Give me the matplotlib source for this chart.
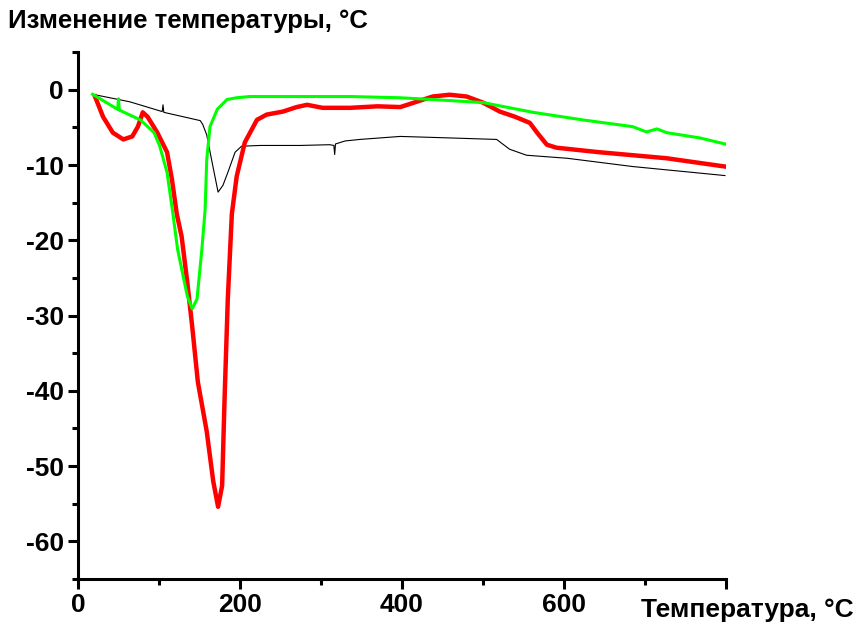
import numpy as np
import matplotlib.pyplot as plt

plt.rcParams['font.family'] = ['Liberation Sans', 'DejaVu Sans']
plt.rcParams['font.weight'] = 'bold'
plt.rcParams['axes.unicode_minus'] = False

# black (thin) curve
t_black = [18, 64, 104, 105, 106, 151, 154, 159, 165, 173, 179, 185, 194, 202, 225,
           274, 311, 316, 317, 318, 330, 348, 398, 459, 517, 533, 554, 604, 685, 799]
y_black = [-0.6, -1.6, -2.9, -2.0, -3.0, -4.1, -4.6, -6.0, -9.3, -13.6, -12.7, -11.0, -8.3,
           -7.5, -7.4, -7.4, -7.3, -7.4, -8.6, -7.2, -6.8, -6.6, -6.2, -6.4, -6.6, -7.9,
           -8.7, -9.1, -10.2, -11.4]

# green curve
t_green = [18, 49, 50, 51, 77, 94, 101, 110, 117, 123, 135, 141, 147, 153, 157, 159,
           163, 172, 184, 196, 212, 336, 397, 438, 500, 562, 623, 685, 702, 715, 727,
           768, 799]
y_green = [-0.6, -2.6, -1.2, -2.7, -4.0, -5.7, -7.5, -11.0, -16.3, -21.2, -27.4, -29.1,
           -27.8, -21.2, -15.9, -9.3, -4.9, -2.6, -1.3, -1.06, -0.9, -0.9, -1.06, -1.3,
           -1.7, -3.0, -4.0, -4.9, -5.6, -5.2, -5.7, -6.4, -7.2]

# red (thick) curve
t_red = [21, 31, 43, 56, 67, 74, 80, 86, 98, 110, 116, 122, 128, 135, 141, 148, 159,
         167, 173, 178, 181, 185, 190, 196, 206, 221, 233, 253, 270, 283, 302, 336,
         370, 398, 418, 438, 459, 480, 500, 521, 540, 558, 567, 579, 591, 644, 727, 799]
y_red = [-0.9, -3.6, -5.7, -6.6, -6.2, -4.9, -3.0, -3.6, -5.7, -8.3, -11.9, -16.5,
         -19.5, -25.6, -31.4, -38.8, -45.4, -52.0, -55.4, -52.6, -41.1, -27.8, -16.5,
         -11.5, -7.0, -4.0, -3.3, -2.9, -2.3, -2.0, -2.4, -2.4, -2.2, -2.3, -1.6, -0.9,
         -0.66, -0.9, -1.7, -2.9, -3.6, -4.4, -5.7, -7.3, -7.7, -8.3, -9.1, -10.2]

fig = plt.figure(figsize=(8.58, 6.28), dpi=100)
ax = fig.add_axes([0.0909, 0.078, 0.755, 0.839])

ax.plot(t_black, y_black, color='black', lw=0.8)
ax.plot(t_red, y_red, color='#ff0000', lw=3.2, solid_joinstyle='round')
ax.plot(t_green, y_green, color='#00ff00', lw=2.2, solid_joinstyle='round')

ax.set_xlim(0, 800)
ax.set_ylim(-65, 5)
ax.set_xticks([0, 200, 400, 600, 800])
ax.set_xticklabels(['0', '200', '400', '600', ''])
ax.set_xticks([100, 300, 500, 700], minor=True)
ax.set_yticks([0, -10, -20, -30, -40, -50, -60])
ax.set_yticks([5, -5, -15, -25, -35, -45, -55, -65], minor=True)

for s in ['top', 'right']:
    ax.spines[s].set_visible(False)
for s in ['left', 'bottom']:
    ax.spines[s].set_linewidth(2.2)
ax.tick_params(which='major', length=7, width=2.2, labelsize=19, pad=3)
ax.tick_params(which='minor', length=4, width=2.2)

fig.text(0.009, 0.967, 'Изменение температуры, °C', fontsize=18.5, fontweight='bold',
         ha='left', va='center')
fig.text(0.995, 0.028, 'Температура, °C', fontsize=19, fontweight='bold',
         ha='right', va='center')

fig.savefig('out.png', dpi=100)
